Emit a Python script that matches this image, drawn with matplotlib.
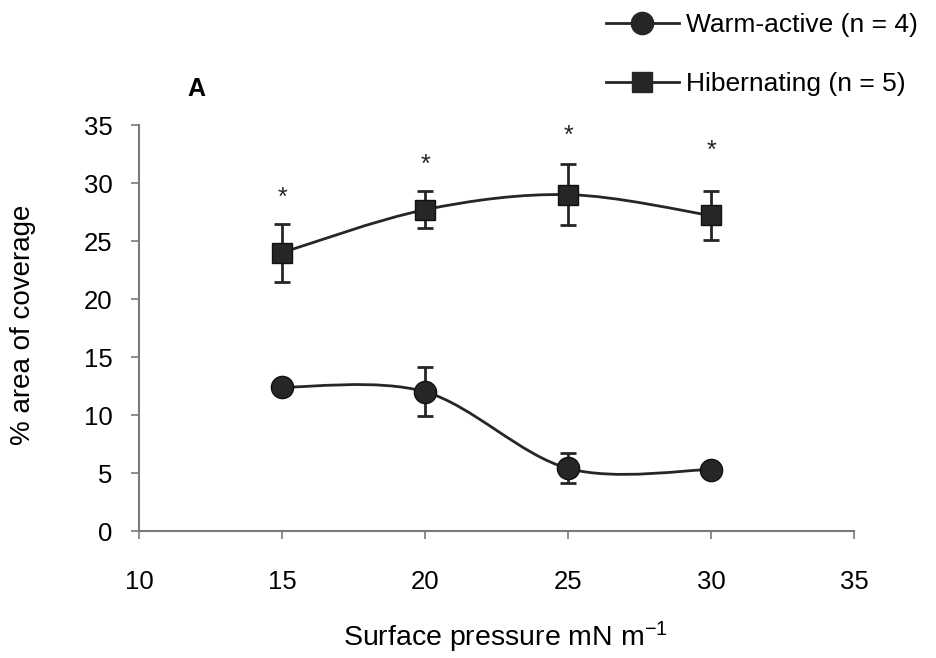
import matplotlib
matplotlib.use("Agg")
import matplotlib.pyplot as plt
from matplotlib.path import Path
from matplotlib.patches import PathPatch
from matplotlib.lines import Line2D

plt.rcParams['font.family'] = ['Liberation Sans', 'DejaVu Sans']
plt.rcParams['mathtext.fontset'] = 'custom'
plt.rcParams['mathtext.rm'] = 'Liberation Sans'
plt.rcParams['mathtext.it'] = 'Liberation Sans:italic'

# data
pressure = [15, 20, 25, 30]
warm = [12.4, 12.0, 5.4, 5.3]
warm_err = [0.6, 2.1, 1.3, 0.4]
hib = [24.0, 27.7, 29.0, 27.2]
hib_err = [2.5, 1.6, 2.6, 2.1]
star_y = [28.7, 31.6, 34.1, 32.8]

x_ticks = [10, 15, 20, 25, 30, 35]
y_ticks = [0, 5, 10, 15, 20, 25, 30, 35]

ink = '#262626'
axis_col = '#7a7a7a'


# smoothed line like a spreadsheet "smoothed line" (bezier through points)
def smooth_path(xs, ys):
    pts = list(zip(xs, ys))
    verts = [pts[0]]
    codes = [Path.MOVETO]
    n = len(pts)
    for i in range(n - 1):
        p0 = pts[i - 1] if i > 0 else pts[i]
        p1 = pts[i]
        p2 = pts[i + 1]
        p3 = pts[i + 2] if i + 2 < n else pts[i + 1]
        c1 = (p1[0] + (p2[0] - p0[0]) / 6, p1[1] + (p2[1] - p0[1]) / 6)
        c2 = (p2[0] - (p3[0] - p1[0]) / 6, p2[1] - (p3[1] - p1[1]) / 6)
        verts += [c1, c2, p2]
        codes += [Path.CURVE4] * 3
    return Path(verts, codes)


fig = plt.figure(figsize=(9.36, 6.58), dpi=100)
ax = fig.add_axes([0.1485, 0.193, 0.7639, 0.617])

for ys, err, mk in [(warm, warm_err, 'o'), (hib, hib_err, 's')]:
    ax.add_patch(PathPatch(smooth_path(pressure, ys), facecolor='none',
                           edgecolor=ink, lw=2, zorder=2))
    ax.errorbar(pressure, ys, yerr=err, fmt='none', ecolor=ink, elinewidth=2,
                capsize=6, capthick=2, zorder=3)
    ax.plot(pressure, ys, linestyle='none', marker=mk, markersize=16 if mk == 'o' else 15,
            markerfacecolor=ink, markeredgecolor='#111111', zorder=4)

for xv, yv in zip(pressure, star_y):
    ax.text(xv, yv, '*', ha='center', va='center', fontsize=18, color=ink)

ax.set_xlim(10, 35)
ax.set_ylim(0, 35)
ax.set_xticks(x_ticks)
ax.set_yticks(y_ticks)
ax.tick_params(axis='both', labelsize=18.5, color=axis_col, length=6, width=1.2)
ax.tick_params(axis='x', pad=22)
ax.tick_params(axis='y', pad=13)
for s in ['top', 'right']:
    ax.spines[s].set_visible(False)
for s in ['left', 'bottom']:
    ax.spines[s].set_color(axis_col)
    ax.spines[s].set_linewidth(1.5)

fig.text(505 / 936, 1 - 637 / 658, 'Surface pressure mN m$^{-1}$', fontsize=20.5,
         ha='center', va='center')
fig.text(23 / 936, 1 - 325 / 658, '% area of coverage', fontsize=20,
         rotation=90, ha='center', va='center')

fig.text(0.21, 0.865, 'A', fontsize=18, fontweight='bold', ha='center', va='center')

handles = [
    Line2D([], [], color=ink, lw=2, marker='o', markersize=16, markerfacecolor=ink),
    Line2D([], [], color=ink, lw=2, marker='s', markersize=15, markerfacecolor=ink),
]
fig.legend(handles, ['Warm-active (n = 4)', 'Hibernating (n = 5)'],
           loc='upper left', bbox_to_anchor=(0.622, 1.016), frameon=False,
           fontsize=19, handlelength=2.75, handletextpad=0.3, labelspacing=1.32)

fig.savefig('out.png', dpi=100)
